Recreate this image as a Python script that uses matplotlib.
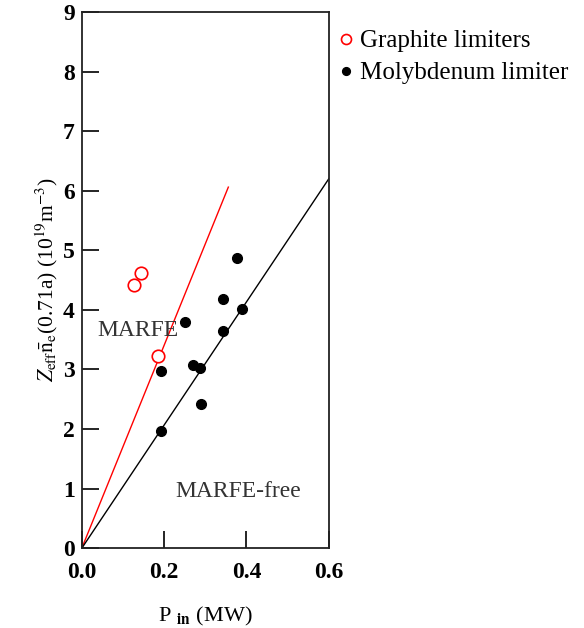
import numpy as np
import matplotlib
matplotlib.use('Agg')
from matplotlib import pyplot as plt

plt.rcParams['font.family'] = 'Liberation Serif'
plt.rcParams['mathtext.fontset'] = 'stix'

# graphite limiter shots (open red circles)
graphite_p = [0.126, 0.143, 0.185]
graphite_z = [4.41, 4.62, 3.22]

# molybdenum limiter shots (black dots)
moly_p = [0.192, 0.192, 0.251, 0.269, 0.288, 0.289, 0.342, 0.342, 0.377, 0.389]
moly_z = [1.96, 2.97, 3.79, 3.07, 3.02, 2.42, 3.64, 4.18, 4.87, 4.01]

# boundary lines through origin
red_line_p = [0.0, 0.356]
red_line_z = [0.0, 6.06]
black_line_p = [0.0, 0.6]
black_line_z = [0.0, 6.2]

fig = plt.figure(figsize=(5.84, 6.28), dpi=100)
ax = fig.add_axes([0.140, 0.127, 0.423, 0.854])

ax.plot(red_line_p, red_line_z, color='red', lw=1.0)
ax.plot(black_line_p, black_line_z, color='black', lw=1.0)
ax.plot(graphite_p, graphite_z, 'o', mfc='white', mec='red', ms=9, mew=1.2,
        label='Graphite limiters')
ax.plot(moly_p, moly_z, 'o', color='black', ms=7, label='Molybdenum limiter')

ax.text(0.136, 3.65, 'MARFE', fontsize=17, ha='center', va='center', color='#333333')
ax.text(0.38, 0.96, 'MARFE-free', fontsize=17, ha='center', va='center', color='#333333')

ax.set_xlim(0, 0.6)
ax.set_ylim(0, 9)
ax.set_xticks([0.0, 0.2, 0.4, 0.6])
ax.set_xticklabels(['0.0', '0.2', '0.4', '0.6'])
ax.set_yticks(range(10))
ax.tick_params(direction='in', length=12, width=1.2, labelsize=17)
ax.tick_params(axis='x', pad=10)
ax.tick_params(axis='y', pad=5)
for lab in ax.get_xticklabels() + ax.get_yticklabels():
    lab.set_fontweight('bold')
for s in ax.spines.values():
    s.set_linewidth(1.3)
    s.set_color('#222222')

ax.set_xlabel(r'P $_{\mathbf{in}}$ (MW)', fontsize=16, labelpad=16)
ax.set_ylabel(r'$Z_{\rm eff}\bar{\rm n}_{\rm e}$(0.71a) (10$^{19}$m$^{-3}$)',
              fontsize=15.5, labelpad=2)

ax.legend(loc='upper left', bbox_to_anchor=(0.985, 0.985), frameon=False,
          fontsize=18, handletextpad=0.1, labelspacing=0.38, borderaxespad=0,
          handlelength=0.9, markerscale=0.8)

plt.savefig('out.png', dpi=100)
